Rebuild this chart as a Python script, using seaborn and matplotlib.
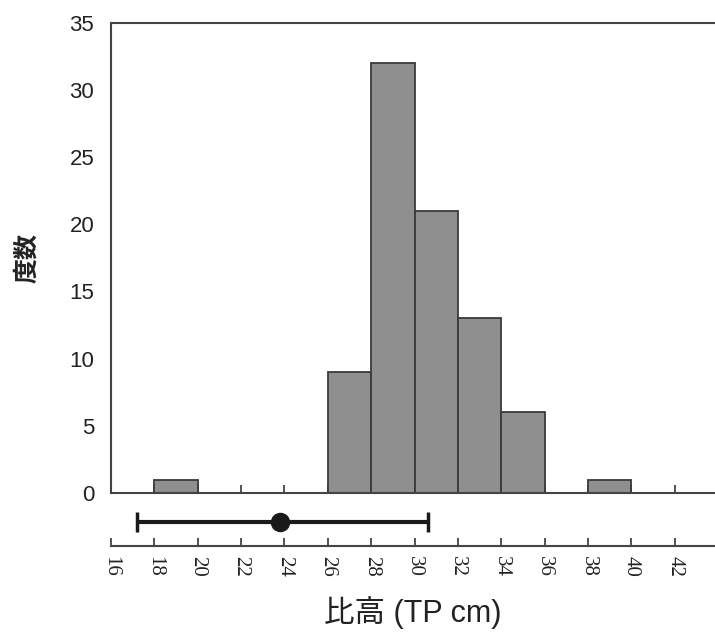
import numpy as np
import pandas as pd
import matplotlib
matplotlib.use("Agg")
import matplotlib.pyplot as plt
import seaborn as sns

# Data
bin_edges = [16, 18, 20, 22, 24, 26, 28, 30, 32, 34, 36, 38, 40, 42, 44]
counts = [0, 1, 0, 0, 0, 9, 32, 21, 13, 6, 0, 1, 0, 0]
mean_value = 23.8
range_low = 17.2
range_high = 30.6
x_ticks = [16, 18, 20, 22, 24, 26, 28, 30, 32, 34, 36, 38, 40, 42]
y_ticks = [0, 5, 10, 15, 20, 25, 30, 35]

sns.set_theme(style="white")
plt.rcParams['font.family'] = ['Liberation Sans', 'Noto Sans CJK JP', 'DejaVu Sans']

centers = [(bin_edges[i] + bin_edges[i + 1]) / 2 for i in range(len(counts))]
df = pd.DataFrame({"x": centers, "w": counts})

fig = plt.figure(figsize=(7.15, 6.32), dpi=100)
xmin, xmax = 16, 43.85
ax = fig.add_axes([0.155, 0.22, 0.845, 0.744])
ax2 = fig.add_axes([0.155, 0.136, 0.845, 0.075])

spine_col = "#444444"
sns.histplot(data=df, x="x", weights="w", bins=bin_edges, ax=ax,
             color="#8f8f8f", edgecolor="#3a3a3a", linewidth=1.3, alpha=1.0)
ax.set_xlim(xmin, xmax)
ax.set_ylim(0, 35)
ax.set_yticks(y_ticks)
ax.set_xticks(x_ticks)
ax.set_xticklabels([])
ax.tick_params(axis="both", direction="in", length=6, width=1.3, color=spine_col)
ax.tick_params(axis="y", labelsize=16, pad=12, labelcolor="#222222")
ax.tick_params(axis="x", bottom=True)
ax.spines["right"].set_visible(False)
for s in ["left", "top", "bottom"]:
    ax.spines[s].set_color(spine_col)
    ax.spines[s].set_linewidth(1.5)
ax.set_xlabel("")
ax.set_ylabel("度数", fontsize=18, labelpad=22, color="#222222", fontweight="bold")

# Lower range panel
ax2.errorbar([mean_value], [0.5], xerr=[[mean_value - range_low], [range_high - mean_value]],
             fmt="o", color="#1a1a1a", ms=13, elinewidth=3, capsize=7, capthick=2.5)
ax2.set_xlim(xmin, xmax)
ax2.set_ylim(0, 1)
ax2.set_yticks([])
ax2.set_xticks(x_ticks)
ax2.set_xticklabels([str(t) for t in x_ticks], rotation=-90,
                    family=['Liberation Serif', 'DejaVu Serif'], fontsize=15)
ax2.tick_params(axis="x", direction="in", length=6, width=1.3, color=spine_col,
                bottom=True, pad=7, labelcolor="#222222")
for s in ["left", "top", "right"]:
    ax2.spines[s].set_visible(False)
ax2.spines["bottom"].set_color(spine_col)
ax2.spines["bottom"].set_linewidth(1.5)
ax2.set_xlabel("比高 (TP cm)", fontsize=22, labelpad=14, color="#222222")

fig.savefig("out.png", dpi=100, facecolor="white")
